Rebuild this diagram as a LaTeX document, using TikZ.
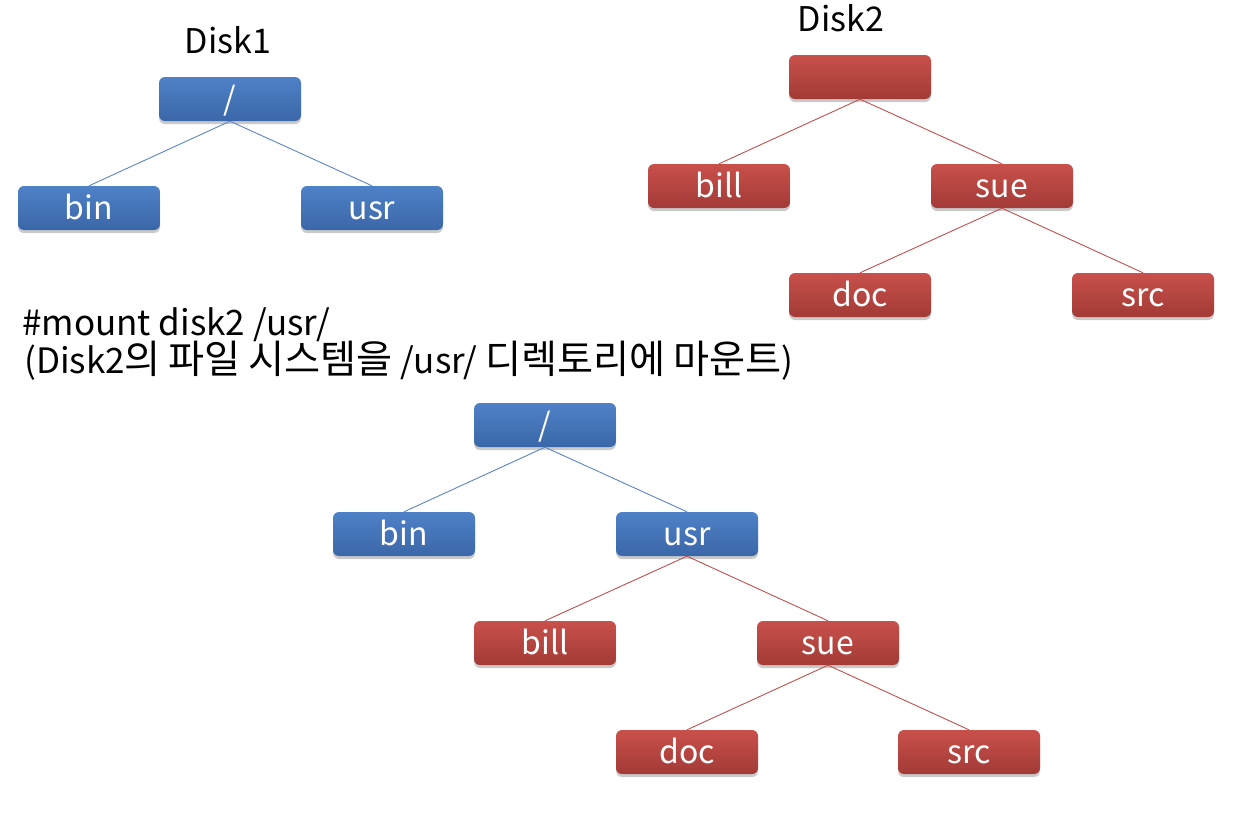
\documentclass[tikz,border=0pt]{standalone}
\usepackage{fontspec}
\setmainfont{Noto Sans CJK KR}
\newfontfamily\kr[Scale=1.12]{Noto Sans CJK KR}
\usetikzlibrary{shadows}
\definecolor{bluetop}{HTML}{4F81C7}
\definecolor{bluebot}{HTML}{3A67A8}
\definecolor{redtop}{HTML}{C9504B}
\definecolor{redbot}{HTML}{A23A36}
\definecolor{blueline}{HTML}{5B84C4}
\definecolor{redline}{HTML}{C0504D}
\tikzset{
  box/.style={minimum width=142pt, minimum height=44pt, rounded corners=6pt, inner sep=0pt,
    text=white, font=\fontsize{32}{32}\selectfont, text height=26pt, text depth=4pt,
    drop shadow={shadow xshift=0pt, shadow yshift=-3pt, opacity=0.35, fill=black!60}},
  bbox/.style={box, top color=bluetop, bottom color=bluebot},
  rbox/.style={box, top color=redtop, bottom color=redbot},
  bl/.style={draw=blueline, line width=0.9pt},
  rl/.style={draw=redline, line width=0.9pt},
  lab/.style={font=\fontsize{34}{34}\selectfont, inner sep=0pt, anchor=base},
  cmd/.style={font=\fontsize{35}{35}\selectfont, inner sep=0pt, anchor=base west}
}
\begin{document}
\begin{tikzpicture}[x=1pt,y=-1pt]
\useasboundingbox (0,0) rectangle (1258,823);
% Disk1
\node[lab] (d1lab) at (228,53) {Disk1};
\node[bbox] (r1) at (230,99) {/};
\node[bbox] (bin1) at (89,208) {bin};
\node[bbox] (usr1) at (372,208) {usr};
\draw[bl] (r1.south) -- (bin1.north);
\draw[bl] (r1.south) -- (usr1.north);
% Disk2
\node[lab] (d2lab) at (841,31) {Disk2};
\node[rbox] (r2) at (860,77) {};
\node[rbox] (bill2) at (719,186) {bill};
\node[rbox] (sue2) at (1002,186) {sue};
\node[rbox] (doc2) at (860,295) {doc};
\node[rbox] (src2) at (1143,295) {src};
\draw[rl] (r2.south) -- (bill2.north);
\draw[rl] (r2.south) -- (sue2.north);
\draw[rl] (sue2.south) -- (doc2.north);
\draw[rl] (sue2.south) -- (src2.north);
% command text
\node[cmd] (cmd1) at (22,335) {\#mount disk2 /usr/};
\node[cmd] (cmd2) at (24,373)
  {(Disk2{\kr 의} {\kr 파일} {\kr 시스템을} /usr/ {\kr 디렉토리에} {\kr 마운트})};
% merged tree
\node[bbox] (r3) at (545,425) {/};
\node[bbox] (bin3) at (404,534) {bin};
\node[bbox] (usr3) at (687,534) {usr};
\node[rbox] (bill3) at (545,643) {bill};
\node[rbox] (sue3) at (828,643) {sue};
\node[rbox] (doc3) at (687,752) {doc};
\node[rbox] (src3) at (969,752) {src};
\draw[bl] (r3.south) -- (bin3.north);
\draw[bl] (r3.south) -- (usr3.north);
\draw[rl] (usr3.south) -- (bill3.north);
\draw[rl] (usr3.south) -- (sue3.north);
\draw[rl] (sue3.south) -- (doc3.north);
\draw[rl] (sue3.south) -- (src3.north);
\end{tikzpicture}
\end{document}
